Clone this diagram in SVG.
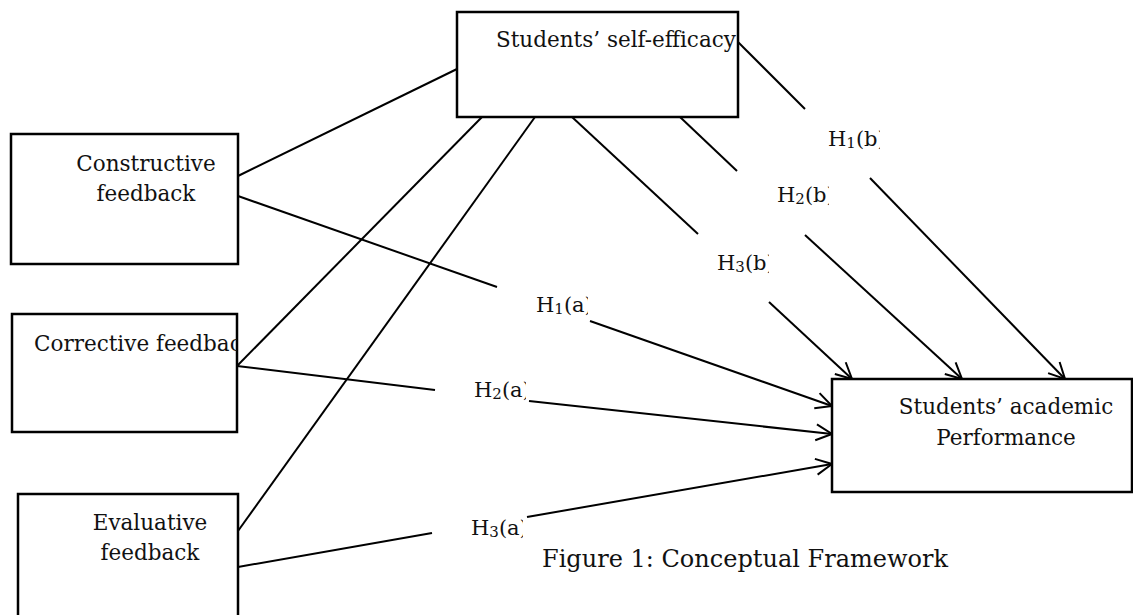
<svg xmlns="http://www.w3.org/2000/svg" width="1133" height="615" viewBox="0 0 1133 615">
<style>
.box{fill:#fff;stroke:#000;stroke-width:2.5}
.t{font-family:"DejaVu Serif","Liberation Serif",serif;font-size:21.5px;fill:#111}
.h{font-family:"DejaVu Serif","Liberation Serif",serif;font-size:21px;fill:#111}
.sub{font-size:15px}
.ln{stroke:#000;stroke-width:2;fill:none}
.ar{stroke:#000;stroke-width:2;fill:none;marker-end:url(#arr)}
.cap{font-family:"DejaVu Serif","Liberation Serif",serif;font-size:25px;fill:#111}
</style>
<defs>
<marker id="arr" viewBox="0 0 20 20" refX="18" refY="10" markerWidth="20" markerHeight="20" markerUnits="userSpaceOnUse" orient="auto">
<path d="M2,2 L18,10 L2,18" fill="none" stroke="#000" stroke-width="2"/>
</marker>
<clipPath id="cSE"><rect x="457" y="12" width="281" height="105"/></clipPath>
<clipPath id="cCor"><rect x="12" y="314" width="225" height="118"/></clipPath>
<clipPath id="c1a"><rect x="530" y="285" width="58" height="40"/></clipPath>
<clipPath id="c2a"><rect x="468" y="370" width="58" height="40"/></clipPath>
<clipPath id="c3a"><rect x="465" y="508" width="58" height="40"/></clipPath>
<clipPath id="c1b"><rect x="822" y="120" width="58" height="40"/></clipPath>
<clipPath id="c2b"><rect x="771" y="176" width="58" height="40"/></clipPath>
<clipPath id="c3b"><rect x="711" y="244" width="58" height="40"/></clipPath>
</defs>

<g id="connectors">
<line class="ln" x1="238" y1="176" x2="457" y2="69"/>
<line class="ln" x1="238" y1="196" x2="497" y2="287"/>
<line class="ln" x1="237" y1="366" x2="482" y2="117"/>
<line class="ln" x1="237" y1="366" x2="435" y2="390"/>
<line class="ln" x1="238" y1="531" x2="535" y2="117"/>
<line class="ln" x1="238" y1="567" x2="432" y2="533"/>
<line class="ar" x1="590" y1="321" x2="832" y2="406"/>
<line class="ar" x1="529" y1="401" x2="832" y2="434"/>
<line class="ar" x1="527" y1="517" x2="832" y2="464"/>
<line class="ln" x1="738" y1="42" x2="805" y2="109"/>
<line class="ar" x1="870" y1="178" x2="1065" y2="379"/>
<line class="ln" x1="680" y1="117" x2="737" y2="171"/>
<line class="ar" x1="805" y1="235" x2="962" y2="379"/>
<line class="ln" x1="572" y1="117" x2="698" y2="234"/>
<line class="ar" x1="769" y1="302" x2="852" y2="379"/>
</g>

<g id="labels">
<text class="h" x="536" y="312" clip-path="url(#c1a)">H<tspan class="sub" dy="2">1</tspan><tspan dy="-2">(a)</tspan></text>
<text class="h" x="474" y="397" clip-path="url(#c2a)">H<tspan class="sub" dy="2">2</tspan><tspan dy="-2">(a)</tspan></text>
<text class="h" x="471" y="535" clip-path="url(#c3a)">H<tspan class="sub" dy="2">3</tspan><tspan dy="-2">(a)</tspan></text>
<text class="h" x="828" y="146" clip-path="url(#c1b)">H<tspan class="sub" dy="2">1</tspan><tspan dy="-2">(b)</tspan></text>
<text class="h" x="777" y="202" clip-path="url(#c2b)">H<tspan class="sub" dy="2">2</tspan><tspan dy="-2">(b)</tspan></text>
<text class="h" x="717" y="270" clip-path="url(#c3b)">H<tspan class="sub" dy="2">3</tspan><tspan dy="-2">(b)</tspan></text>
</g>

<g id="self-efficacy">
<rect class="box" x="457" y="12" width="281" height="105"/>
<text class="t" x="496" y="47" clip-path="url(#cSE)">Students’ self-efficacy</text>
</g>

<g id="constructive">
<rect class="box" x="11" y="134" width="227" height="130"/>
<text class="t" x="146" y="171" text-anchor="middle">Constructive</text>
<text class="t" x="146" y="201" text-anchor="middle">feedback</text>
</g>

<g id="corrective">
<rect class="box" x="12" y="314" width="225" height="118"/>
<text class="t" x="34" y="351" clip-path="url(#cCor)">Corrective feedback</text>
</g>

<g id="evaluative">
<rect class="box" x="18" y="494" width="220" height="130"/>
<text class="t" x="150" y="530" text-anchor="middle">Evaluative</text>
<text class="t" x="150" y="560" text-anchor="middle">feedback</text>
</g>

<g id="performance">
<rect class="box" x="832" y="379" width="300" height="113"/>
<text class="t" x="1006" y="414" text-anchor="middle">Students’ academic</text>
<text class="t" x="1006" y="445" text-anchor="middle">Performance</text>
</g>

<text class="cap" x="542" y="567" textLength="406" lengthAdjust="spacingAndGlyphs">Figure 1: Conceptual Framework</text>
</svg>
